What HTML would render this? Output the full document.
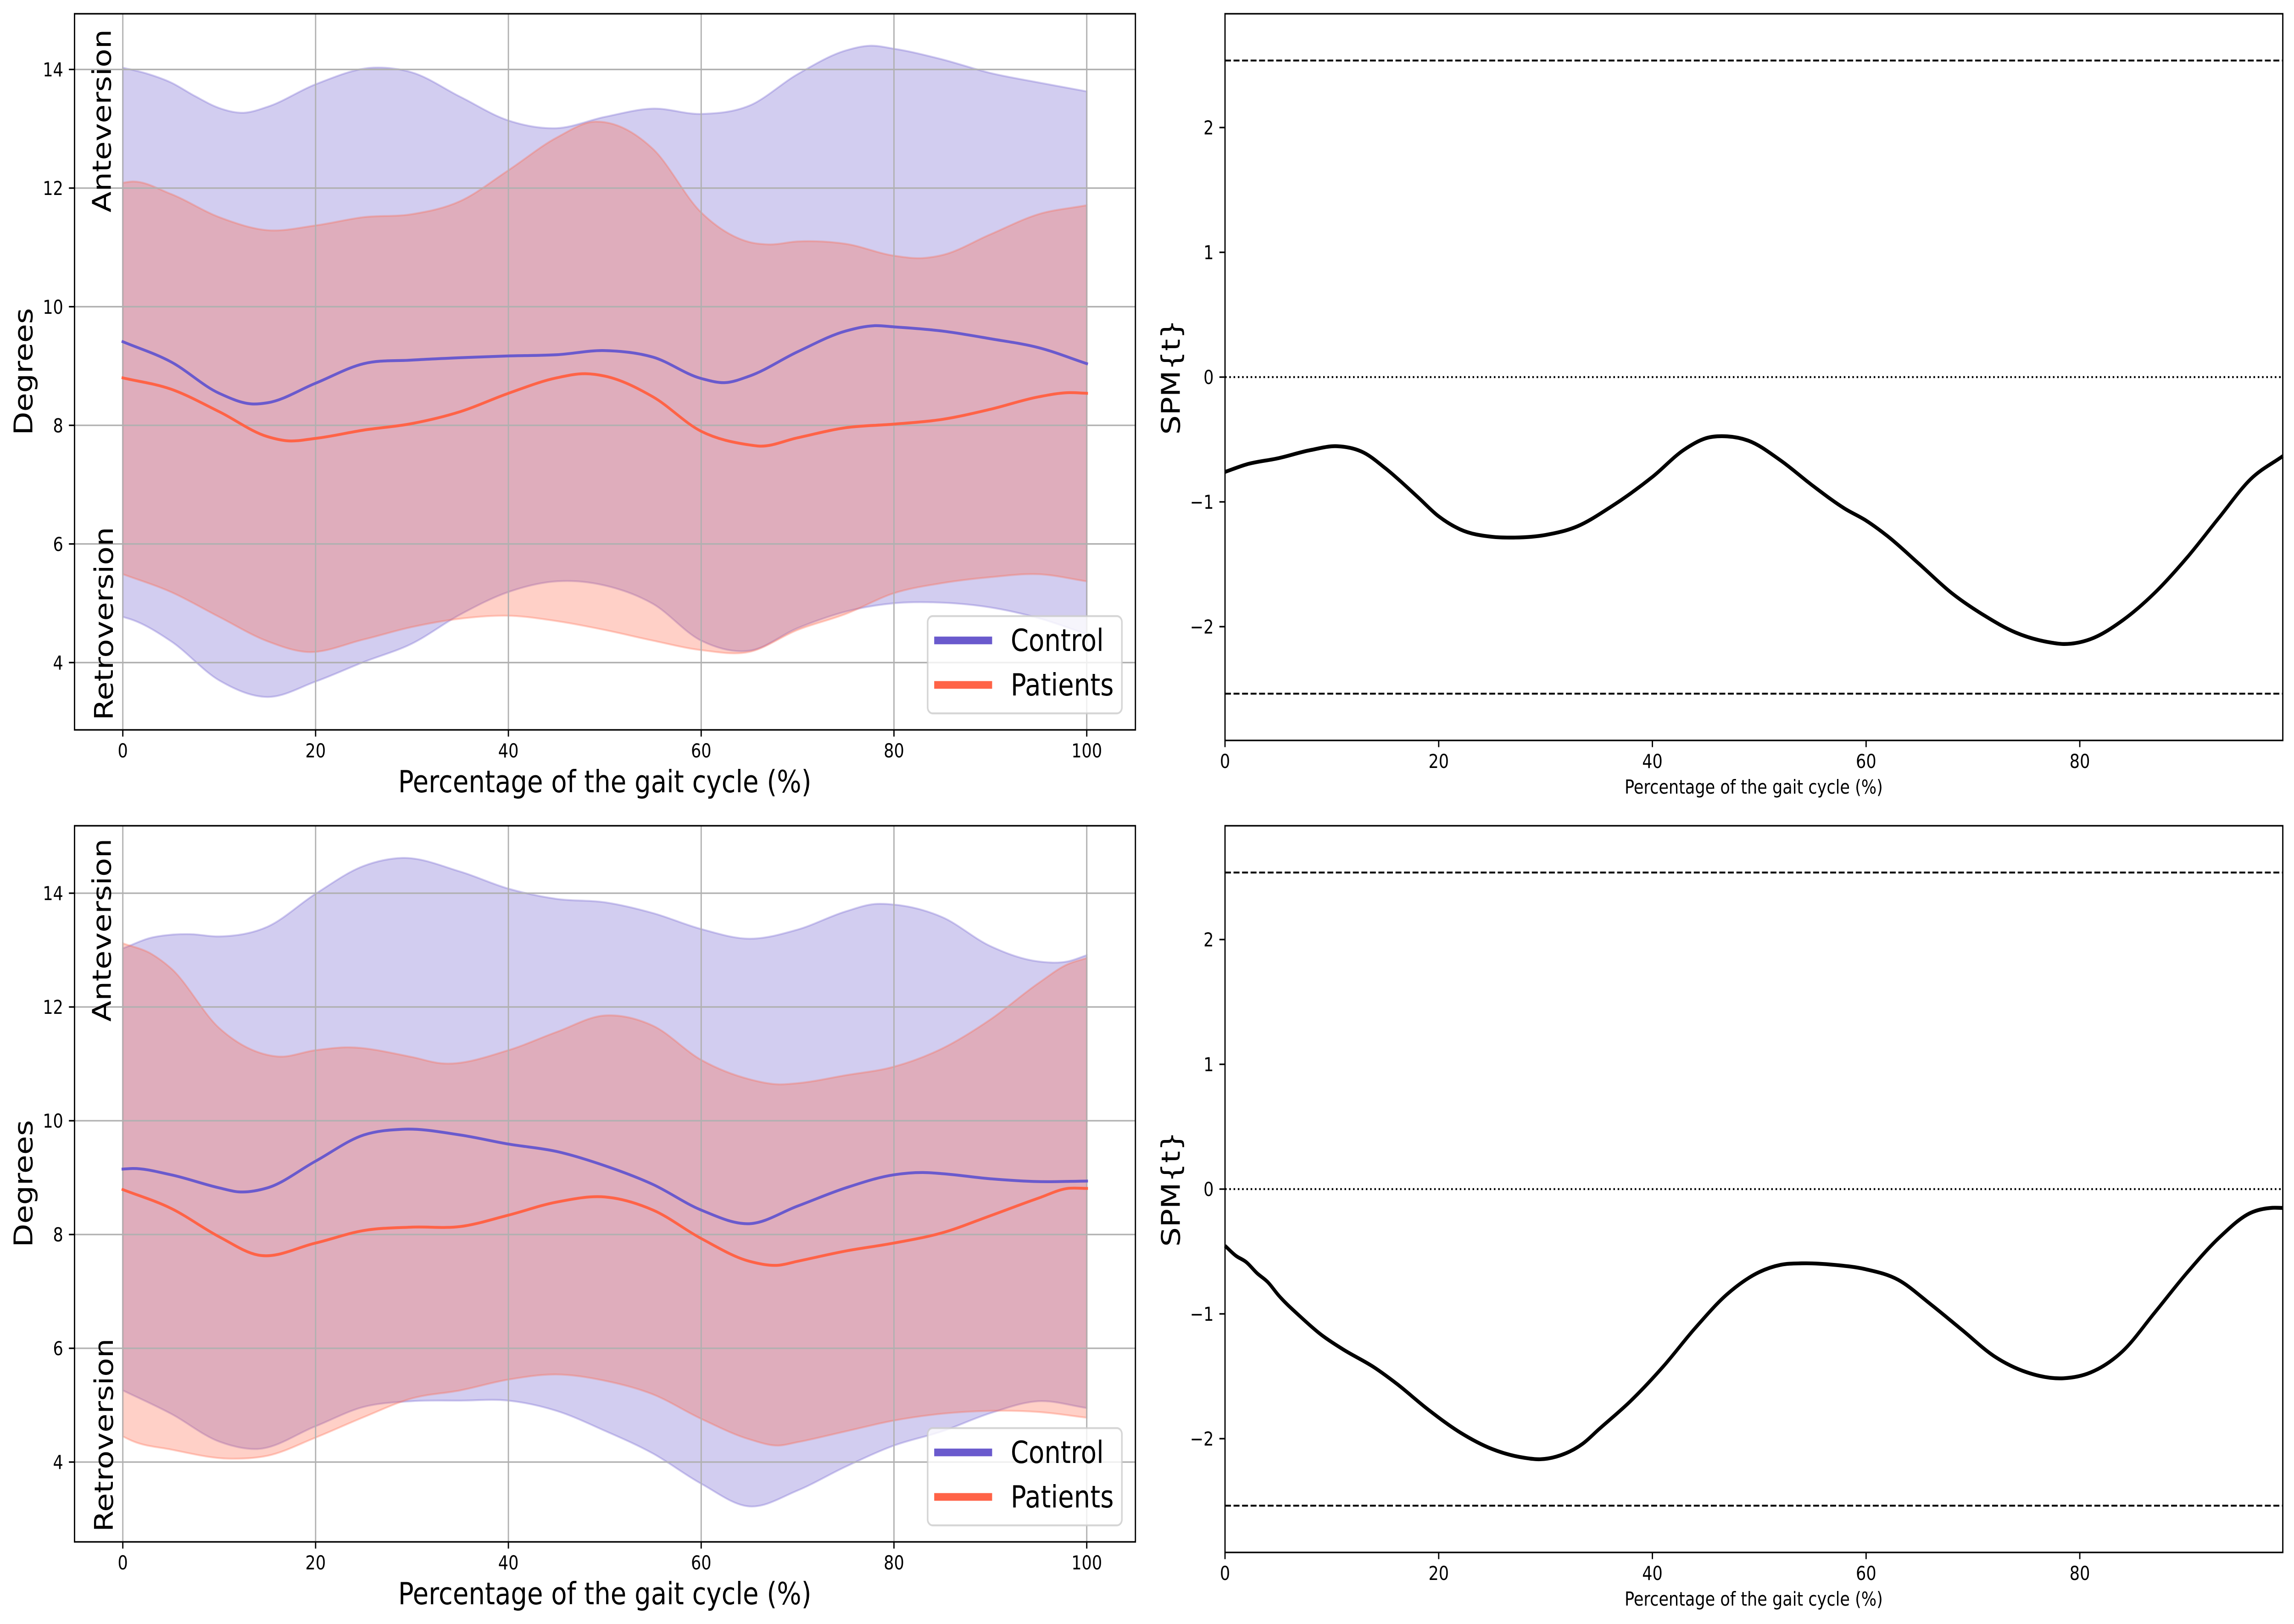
<!DOCTYPE html>
<html lang="en">
<head>
<meta charset="utf-8">
<title>Gait cycle comparison with SPM t statistics</title>
<style>
html,body{margin:0;padding:0;background:#fff;width:100%;height:100%;overflow:hidden;}
svg{display:block;width:100vw;height:100vh;}
text{font-family:"DejaVu Sans","Liberation Sans",sans-serif;fill:#000;}
.lab{font-size:66.67px;}
.small{font-size:41.67px;}
</style>
</head>
<body>
<svg id="figure" xmlns="http://www.w3.org/2000/svg" viewBox="0 0 5940 3540" preserveAspectRatio="none">
  <rect x="0" y="0" width="5940" height="3540" fill="#ffffff"/>

  <g id="panel-tl">
    <g id="tl-marks"></g>
    <text class="lab" transform="translate(287,463) rotate(-90)">Anteversion</text>
    <text class="lab" transform="translate(292,1570) rotate(-90)">Retroversion</text>
    <text class="lab" x="1566" y="1727" text-anchor="middle">Percentage of the gait cycle (%)</text>
    <text class="lab" transform="translate(84,810) rotate(-90)" text-anchor="middle">Degrees</text>
    <g>
      <rect x="2402" y="1343" width="503" height="212" rx="13" ry="13" fill="#ffffff" fill-opacity="0.8" stroke="#cccccc" stroke-opacity="0.8" stroke-width="4.17"/>
      <line x1="2419" x2="2569" y1="1396" y2="1396" stroke="#6a5acd" stroke-width="16.67"/>
      <text class="lab" x="2617" y="1419">Control</text>
      <line x1="2419" x2="2569" y1="1493" y2="1493" stroke="#ff6347" stroke-width="16.67"/>
      <text class="lab" x="2617" y="1516">Patients</text>
    </g>
  </g>

  <g id="panel-bl">
    <g id="bl-marks"></g>
    <text class="lab" transform="translate(287,2227) rotate(-90)">Anteversion</text>
    <text class="lab" transform="translate(292,3339) rotate(-90)">Retroversion</text>
    <text class="lab" x="1566" y="3497" text-anchor="middle">Percentage of the gait cycle (%)</text>
    <text class="lab" transform="translate(84,2580) rotate(-90)" text-anchor="middle">Degrees</text>
    <g>
      <rect x="2402" y="3113" width="503" height="212" rx="13" ry="13" fill="#ffffff" fill-opacity="0.8" stroke="#cccccc" stroke-opacity="0.8" stroke-width="4.17"/>
      <line x1="2419" x2="2569" y1="3166" y2="3166" stroke="#6a5acd" stroke-width="16.67"/>
      <text class="lab" x="2617" y="3189">Control</text>
      <line x1="2419" x2="2569" y1="3263" y2="3263" stroke="#ff6347" stroke-width="16.67"/>
      <text class="lab" x="2617" y="3286">Patients</text>
    </g>
  </g>

  <g id="panel-tr">
    <g id="tr-marks"></g>
    <text class="small" x="4541" y="1730" text-anchor="middle">Percentage of the gait cycle (%)</text>
    <text class="lab" transform="translate(3055,822) rotate(-90)" text-anchor="middle">SPM{t}</text>
  </g>

  <g id="panel-br">
    <g id="br-marks"></g>
    <text class="small" x="4541" y="3500" text-anchor="middle">Percentage of the gait cycle (%)</text>
    <text class="lab" transform="translate(3055,2592) rotate(-90)" text-anchor="middle">SPM{t}</text>
  </g>
</svg>

<script>
// ---- tick labels ----
const leftXTicks = [0, 20, 40, 60, 80, 100];
const leftYTicks = [4, 6, 8, 10, 12, 14];
const rightXTicks = [0, 20, 40, 60, 80];
const rightYTicks = [-2, -1, 0, 1, 2];

// ---- top-left chart series (percentage, degrees) ----
const tlControlUpperPct = [0, 2.5, 5, 7.5, 10, 12.5, 15, 20, 26, 30, 35, 40, 45, 50, 55, 60, 65, 70, 75, 77.5, 80, 85, 90, 95, 100];
const tlControlUpperVal = [14.03, 13.93, 13.78, 13.55, 13.35, 13.27, 13.37, 13.75, 14.03, 13.95, 13.54, 13.14, 13.01, 13.20, 13.34, 13.25, 13.39, 13.92, 14.32, 14.40, 14.35, 14.17, 13.94, 13.78, 13.63];
const tlControlLowerPct = [0, 1, 5, 10, 15, 20, 25, 30, 35, 40, 45, 50, 55, 60, 65, 70, 75, 80, 85, 90, 95, 100];
const tlControlLowerVal = [4.77, 4.72, 4.36, 3.70, 3.42, 3.68, 4.01, 4.32, 4.81, 5.19, 5.37, 5.30, 4.99, 4.37, 4.20, 4.58, 4.86, 5.00, 5.01, 4.93, 4.75, 4.48];
const tlControlMeanPct = [0, 5, 10, 13.5, 15, 20, 25, 30, 35, 40, 45, 50, 55, 60, 62.5, 65, 70, 75, 78, 80, 85, 90, 95, 100];
const tlControlMeanVal = [9.41, 9.07, 8.54, 8.36, 8.38, 8.71, 9.04, 9.10, 9.14, 9.17, 9.19, 9.26, 9.15, 8.79, 8.72, 8.83, 9.24, 9.59, 9.68, 9.66, 9.59, 9.46, 9.31, 9.04];
const tlPatientsUpperPct = [0, 1, 5, 10, 15, 20, 25, 30, 35, 40, 45, 49, 50, 55, 60, 65, 67, 70, 75, 80, 83, 85, 90, 95, 100];
const tlPatientsUpperVal = [12.09, 12.11, 11.90, 11.51, 11.29, 11.37, 11.51, 11.56, 11.78, 12.30, 12.85, 13.12, 13.11, 12.66, 11.59, 11.09, 11.05, 11.10, 11.06, 10.86, 10.82, 10.87, 11.22, 11.56, 11.71];
const tlPatientsLowerPct = [0, 5, 10, 15, 19, 25, 30, 35, 40, 45, 50, 55, 60, 65, 70, 75, 80, 85, 90, 95, 100];
const tlPatientsLowerVal = [5.49, 5.19, 4.77, 4.36, 4.18, 4.39, 4.60, 4.74, 4.79, 4.70, 4.55, 4.37, 4.21, 4.18, 4.55, 4.82, 5.17, 5.34, 5.44, 5.49, 5.37];
const tlPatientsMeanPct = [0, 5, 10, 15, 17, 20, 25, 30, 35, 40, 45, 48, 50, 55, 60, 65, 66, 70, 75, 80, 85, 90, 95, 98, 100];
const tlPatientsMeanVal = [8.80, 8.61, 8.23, 7.81, 7.74, 7.78, 7.92, 8.03, 8.23, 8.54, 8.80, 8.87, 8.83, 8.48, 7.90, 7.67, 7.65, 7.79, 7.96, 8.02, 8.10, 8.27, 8.48, 8.55, 8.54];

// ---- bottom-left chart series (percentage, degrees) ----
const blControlUpperPct = [0, 3, 5, 7, 10, 15, 20, 25, 29, 35, 40, 45, 50, 55, 60, 65, 70, 75, 78, 80, 85, 90, 95, 98, 100];
const blControlUpperVal = [13.03, 13.22, 13.27, 13.28, 13.24, 13.41, 13.99, 14.48, 14.62, 14.38, 14.08, 13.90, 13.84, 13.65, 13.37, 13.20, 13.36, 13.68, 13.81, 13.80, 13.58, 13.07, 12.80, 12.80, 12.91];
const blControlLowerPct = [0, 5, 10, 14, 20, 25, 30, 35, 40, 45, 50, 55, 60, 65, 70, 75, 80, 85, 90, 95, 100];
const blControlLowerVal = [5.26, 4.85, 4.36, 4.23, 4.63, 4.97, 5.07, 5.08, 5.08, 4.90, 4.55, 4.15, 3.62, 3.22, 3.50, 3.92, 4.29, 4.54, 4.86, 5.07, 4.95];
const blControlMeanPct = [0, 1, 5, 10, 12, 15, 20, 25, 29, 35, 40, 45, 50, 55, 60, 65, 70, 75, 80, 83, 85, 90, 95, 100];
const blControlMeanVal = [9.15, 9.16, 9.05, 8.82, 8.75, 8.82, 9.29, 9.75, 9.85, 9.75, 9.59, 9.46, 9.21, 8.88, 8.43, 8.19, 8.50, 8.82, 9.05, 9.09, 9.07, 8.98, 8.93, 8.94];
const blPatientsUpperPct = [0, 3, 5, 10, 16, 20, 23, 30, 33, 40, 45, 50, 55, 60, 65, 68, 70, 75, 80, 85, 90, 95, 98, 100];
const blPatientsUpperVal = [13.12, 12.93, 12.68, 11.63, 11.13, 11.24, 11.29, 11.12, 11.01, 11.24, 11.56, 11.85, 11.67, 11.07, 10.73, 10.64, 10.66, 10.80, 10.95, 11.27, 11.78, 12.42, 12.75, 12.86];
const blPatientsLowerPct = [0, 1, 5, 11, 15, 20, 25, 30, 35, 40, 45, 50, 55, 60, 65, 68, 70, 75, 80, 85, 90, 95, 100];
const blPatientsLowerVal = [4.45, 4.37, 4.22, 4.06, 4.11, 4.43, 4.79, 5.12, 5.26, 5.45, 5.54, 5.43, 5.19, 4.76, 4.40, 4.29, 4.35, 4.54, 4.73, 4.85, 4.90, 4.88, 4.78];
const blPatientsMeanPct = [0, 5, 10, 14, 20, 25, 30, 35, 40, 45, 50, 55, 60, 65, 68, 70, 75, 80, 85, 90, 95, 98, 100];
const blPatientsMeanVal = [8.79, 8.46, 7.96, 7.64, 7.85, 8.07, 8.13, 8.14, 8.34, 8.57, 8.66, 8.43, 7.93, 7.53, 7.46, 7.53, 7.71, 7.85, 8.03, 8.33, 8.64, 8.81, 8.81];

// ---- right charts: SPM{t} curves and thresholds ----
const trSpmPct = [0, 2, 5, 8, 10.5, 13, 15, 18, 20, 22, 25, 27, 30, 33, 36, 40, 43, 45, 47, 49, 52, 55, 58, 60, 62, 65, 68, 71, 74, 77, 78.5, 81, 84, 87, 90, 93, 96, 99];
const trSpmVal = [-0.76, -0.70, -0.65, -0.585, -0.554, -0.606, -0.73, -0.958, -1.116, -1.22, -1.28, -1.286, -1.265, -1.195, -1.046, -0.80, -0.58, -0.49, -0.475, -0.51, -0.668, -0.87, -1.054, -1.15, -1.274, -1.50, -1.73, -1.907, -2.047, -2.123, -2.139, -2.10, -1.95, -1.73, -1.45, -1.13, -0.817, -0.633];
const brSpmPct = [0, 1, 2, 3, 4, 5, 7, 9, 11, 14, 16, 19, 22, 25, 28, 29.5, 31, 33.5, 35, 38, 41, 44, 47, 50, 52, 54, 57, 60, 63, 66, 69, 72, 75, 78.5, 81, 84, 87, 90, 93, 96, 98, 99];
const brSpmVal = [-0.454, -0.533, -0.586, -0.674, -0.745, -0.85, -1.018, -1.167, -1.282, -1.431, -1.555, -1.766, -1.95, -2.083, -2.153, -2.165, -2.144, -2.039, -1.924, -1.695, -1.423, -1.114, -0.842, -0.665, -0.607, -0.595, -0.607, -0.643, -0.727, -0.92, -1.13, -1.34, -1.467, -1.516, -1.47, -1.30, -0.991, -0.674, -0.393, -0.19, -0.15, -0.151];
const spmThreshold = [2.537];
const spmZero = [0];

const SVGNS = 'http://www.w3.org/2000/svg';
const CONTROL = '#6a5acd';
const PATIENTS = '#ff6347';

function make(parent, tag, props) {
  const el = document.createElementNS(SVGNS, tag);
  for (const key in props) el.setAttribute(key, props[key]);
  parent.appendChild(el);
  return el;
}

// Axis scale factories: data value -> pixel position.
function linearScale(d0, d1, p0, p1) {
  return function (v) { return p0 + (v - d0) * (p1 - p0) / (d1 - d0); };
}

// Smooth Hermite segments through the data points (as Bezier commands).
function splineSegments(xs, ys) {
  const n = xs.length;
  const m = [];
  for (let i = 0; i < n; i++) {
    if (i === 0) m.push((ys[1] - ys[0]) / (xs[1] - xs[0]));
    else if (i === n - 1) m.push((ys[n - 1] - ys[n - 2]) / (xs[n - 1] - xs[n - 2]));
    else {
      const h0 = xs[i] - xs[i - 1], h1 = xs[i + 1] - xs[i];
      const s0 = (ys[i] - ys[i - 1]) / h0, s1 = (ys[i + 1] - ys[i]) / h1;
      m.push((s0 * h1 + s1 * h0) / (h0 + h1));
    }
  }
  let d = '';
  for (let i = 0; i < n - 1; i++) {
    const h = xs[i + 1] - xs[i];
    d += ' C' + (xs[i] + h / 3).toFixed(2) + ' ' + (ys[i] + m[i] * h / 3).toFixed(2) + ' ' +
      (xs[i + 1] - h / 3).toFixed(2) + ' ' + (ys[i + 1] - m[i + 1] * h / 3).toFixed(2) + ' ' +
      xs[i + 1].toFixed(2) + ' ' + ys[i + 1].toFixed(2);
  }
  return d;
}

function curvePath(pct, val, sx, sy) {
  const xs = pct.map(sx), ys = val.map(sy);
  return 'M' + xs[0].toFixed(2) + ' ' + ys[0].toFixed(2) + splineSegments(xs, ys);
}

function bandPath(upPct, upVal, loPct, loVal, sx, sy) {
  const rPct = loPct.slice().reverse(), rVal = loVal.slice().reverse();
  const lx = rPct.map(sx), ly = rVal.map(sy);
  return curvePath(upPct, upVal, sx, sy) + ' L' + lx[0].toFixed(2) + ' ' + ly[0].toFixed(2) + splineSegments(lx, ly) + ' Z';
}

function drawFrame(g, box, sx, sy, xTicks, yTicks) {
  const frame = make(g, 'rect', { x: box.left, y: box.top, width: box.right - box.left, height: box.bottom - box.top, fill: 'none', stroke: '#000', 'stroke-width': 3.33 });
  
  
  xTicks.forEach(function (t) {
    const tick = make(g, 'line', { x1: sx(t), x2: sx(t), y1: box.bottom, y2: box.bottom + 14.6, stroke: '#000', 'stroke-width': 3.33 });
    
    
    const label = make(g, 'text', { x: sx(t), y: box.bottom + 60, 'text-anchor': 'middle', class: 'small' });
    label.textContent = String(t);
    
    
  });
  yTicks.forEach(function (t) {
    const tick = make(g, 'line', { x1: box.left - 14.6, x2: box.left, y1: sy(t), y2: sy(t), stroke: '#000', 'stroke-width': 3.33 });
    
    
    const label = make(g, 'text', { x: box.left - 29.2, y: sy(t) + 15.2, 'text-anchor': 'end', class: 'small' });
    label.textContent = String(t).replace('-', '\u2212');
    
    
  });
}

function drawLeftChart(id, box, sx, sy, s) {
  const g = document.getElementById(id);

  const controlBand = make(g, 'path', { d: bandPath(s.cuP, s.cuV, s.clP, s.clV, sx, sy), fill: CONTROL, 'fill-opacity': 0.3, stroke: CONTROL, 'stroke-opacity': 0.3, 'stroke-width': 4.17 });
  
  

  const patientsBand = make(g, 'path', { d: bandPath(s.puP, s.puV, s.plP, s.plV, sx, sy), fill: PATIENTS, 'fill-opacity': 0.3, stroke: PATIENTS, 'stroke-opacity': 0.3, 'stroke-width': 4.17 });
  
  

  leftXTicks.forEach(function (t) {
    const line = make(g, 'line', { x1: sx(t), x2: sx(t), y1: box.top, y2: box.bottom, stroke: '#b0b0b0', 'stroke-width': 3.33 });
    
    
  });
  leftYTicks.forEach(function (t) {
    const line = make(g, 'line', { x1: box.left, x2: box.right, y1: sy(t), y2: sy(t), stroke: '#b0b0b0', 'stroke-width': 3.33 });
    
    
  });

  const controlLine = make(g, 'path', { d: curvePath(s.cmP, s.cmV, sx, sy), fill: 'none', stroke: CONTROL, 'stroke-width': 6.25, 'stroke-linecap': 'square', 'stroke-linejoin': 'round' });
  
  

  const patientsLine = make(g, 'path', { d: curvePath(s.pmP, s.pmV, sx, sy), fill: 'none', stroke: PATIENTS, 'stroke-width': 6.25, 'stroke-linecap': 'square', 'stroke-linejoin': 'round' });
  
  

  drawFrame(g, box, sx, sy, leftXTicks, leftYTicks);
}

function drawRightChart(id, box, sx, sy, pct, val) {
  const g = document.getElementById(id);
  const xEnd = pct[pct.length - 1];

  spmThreshold.forEach(function (t) {
    const upper = make(g, 'line', { x1: sx(0), x2: sx(xEnd), y1: sy(t), y2: sy(t), stroke: '#000', 'stroke-width': 4.17, 'stroke-dasharray': '15.4 6.67' });
    
    
    const lower = make(g, 'line', { x1: sx(0), x2: sx(xEnd), y1: sy(-t), y2: sy(-t), stroke: '#000', 'stroke-width': 4.17, 'stroke-dasharray': '15.4 6.67' });
    
    
  });
  spmZero.forEach(function (t) {
    const zero = make(g, 'line', { x1: sx(0), x2: sx(xEnd), y1: sy(t), y2: sy(t), stroke: '#000', 'stroke-width': 4.17, 'stroke-dasharray': '4.17 6.88' });
    
    
  });

  const curve = make(g, 'path', { d: curvePath(pct, val, sx, sy), fill: 'none', stroke: '#000', 'stroke-width': 8.33, 'stroke-linejoin': 'round' });
  
  

  drawFrame(g, box, sx, sy, rightXTicks, rightYTicks);
}

drawLeftChart('tl-marks',
  { left: 193, right: 2940, top: 30, bottom: 1591 },
  linearScale(0, 100, 318, 2814),
  linearScale(4, 14, 1444.3, 151.4),
  { cuP: tlControlUpperPct, cuV: tlControlUpperVal, clP: tlControlLowerPct, clV: tlControlLowerVal, cmP: tlControlMeanPct, cmV: tlControlMeanVal,
    puP: tlPatientsUpperPct, puV: tlPatientsUpperVal, plP: tlPatientsLowerPct, plV: tlPatientsLowerVal, pmP: tlPatientsMeanPct, pmV: tlPatientsMeanVal });

drawLeftChart('bl-marks',
  { left: 193, right: 2940, top: 1800, bottom: 3361 },
  linearScale(0, 100, 318, 2814),
  linearScale(4, 14, 3187, 1947),
  { cuP: blControlUpperPct, cuV: blControlUpperVal, clP: blControlLowerPct, clV: blControlLowerVal, cmP: blControlMeanPct, cmV: blControlMeanVal,
    puP: blPatientsUpperPct, puV: blPatientsUpperVal, plP: blPatientsLowerPct, plV: blPatientsLowerVal, pmP: blPatientsMeanPct, pmV: blPatientsMeanVal });

drawRightChart('tr-marks',
  { left: 3172, right: 5911, top: 30, bottom: 1614 },
  linearScale(0, 99, 3172, 5911),
  linearScale(-2, 2, 1366, 278),
  trSpmPct, trSpmVal);

drawRightChart('br-marks',
  { left: 3172, right: 5911, top: 1800, bottom: 3384 },
  linearScale(0, 99, 3172, 5911),
  linearScale(-2, 2, 3136, 2048),
  brSpmPct, brSpmVal);
</script>
</body>
</html>
